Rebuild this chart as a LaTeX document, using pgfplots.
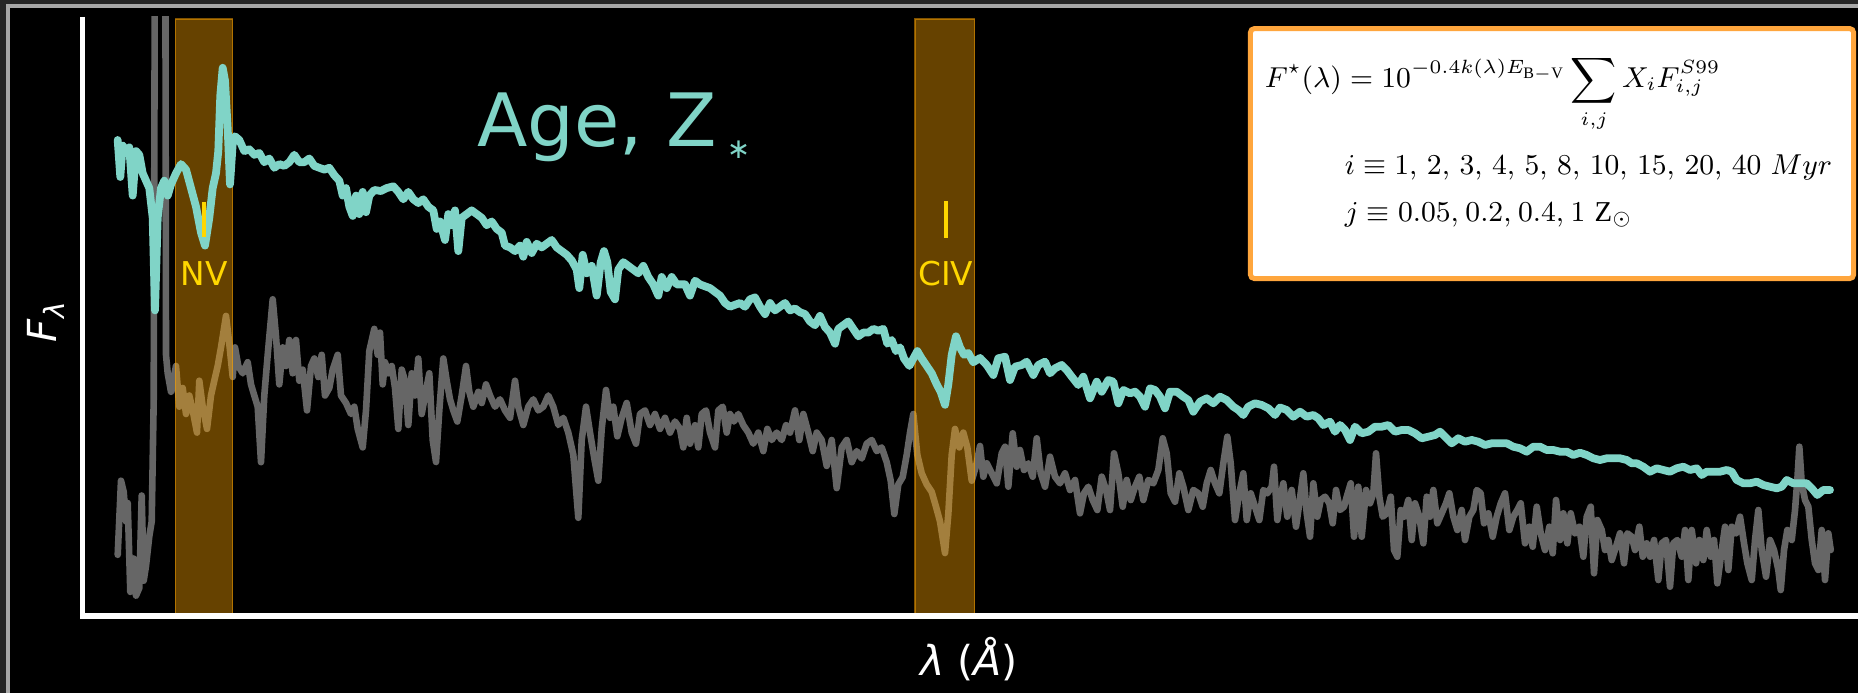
\documentclass[border=0pt]{standalone}
\usepackage{graphicx}
\usepackage{fontspec}
\setmainfont{DejaVu Sans}
\setmathrm{Liberation Serif}
\usepackage{pgfplots}
\pgfplotsset{compat=1.18}
\definecolor{cyanline}{RGB}{128,212,199}
\definecolor{grayline}{RGB}{102,102,102}
\definecolor{bandorange}{RGB}{255,165,0}
\definecolor{goldtxt}{RGB}{255,215,0}
\definecolor{boxorange}{RGB}{255,166,61}
\definecolor{framedark}{RGB}{38,38,38}
\definecolor{framelight}{RGB}{168,168,168}
\begin{document}
\begin{tikzpicture}
\useasboundingbox (0,0) rectangle (464.5pt,173.25pt);
\fill[framedark] (0,0) rectangle (464.5pt,173.25pt);
\fill[framelight] (1.5pt,0) rectangle (464.5pt,172.25pt);
\fill[black] (2.5pt,0) rectangle (464.5pt,171.25pt);
\begin{axis}[
  at={(20.625pt,19.25pt)}, anchor=south west,
  scale only axis, width=443.875pt, height=149.75pt,
  xmin=82.5, xmax=1858, ymin=17, ymax=616, y dir=reverse,
  axis line style={draw=none}, xtick=\empty, ytick=\empty,
  tick style={draw=none}, clip=true,
]
% observed spectrum (gray)
\addplot[grayline, line width=1.65pt, line join=round, line cap=round] coordinates {
(117.7,554.8) (121,480.7) (123.7,491.9) (126,521.5) (127.7,503) (130.3,591.9) (133.7,558.5) (136,595.6) (139.3,588) (141.7,495.5) (143.7,580.7) (146,566) (149.3,536.3) (151.7,521.5) (153.7,400) (155.5,-300) (165,-300) (166,354.8) (167.7,373.3) (171,391.8) (176,366) (179.3,406.7) (182.7,388) (186,414) (189.3,395.5) (192.7,410.4) (197,432.6) (199.3,380.7) (202.7,406.7) (207,428.9) (211,395.5) (214.3,380.7) (217.7,366) (221,347.4) (226,315.9) (229.3,343.7) (232.7,377) (235,347.4) (238.3,366) (242.7,373.3) (247.7,362.2) (251,384.4) (254.3,395.5) (257.7,406.7) (261,462.2) (264.3,395.5) (267.7,354.8) (272.7,299.3) (276,336.3) (279.3,384.4) (282.7,347.4) (286,366) (289.3,340) (292.7,373.3) (296,340) (299.3,380.7) (302.7,369.6) (307,410.4) (311,366) (314.3,358.5) (318.3,377) (321.7,354.8) (325,395.5) (329.3,388) (332.7,369.6) (337.7,354.8) (341,395.5) (346,403) (351,414) (354.3,406.7) (357.7,428.9) (362.7,447.4) (366,410.4) (369.3,351) (374.3,328.9) (377.7,354.8) (380,332.6)
(382.7,384.4) (385,362.2) (388.3,373.3) (391.7,366) (395,388) (398.3,428.9) (401.7,369.6) (405,380.7) (408.3,425) (411.7,373.3) (415,395.5) (418.3,358.5) (421.7,414) (425,395.5) (429.3,373.3) (432.7,440) (436,462) (439.3,410.4) (443.3,358.5) (446.7,380.7) (450,399.3) (453.3,410.4) (457.3,421.5) (461.7,395.5) (466,366) (469.3,391.8) (473.3,406.7) (478.3,391.8) (481.7,403) (486,384.4) (490,395.5) (495,406.7) (500,399.3) (505,410.4) (510,417.8) (515,380.7) (518.3,406.7) (523.3,425) (528.3,406.7) (533.3,399.3) (538.3,410.4) (543.3,406.7) (548.3,395.5) (553.3,406.7) (558.3,425) (563.3,417.8) (568.3,432.6) (573.3,454.8) (578.3,517.8) (581.7,440) (586,406.7) (590,432.6) (594.3,458.5) (598.3,480.7) (601.7,428.9) (606,390) (610,417.8) (613.3,406.7) (617.3,436.3) (621.7,417.8) (626.7,403) (631.7,432.6) (636,443.7) (640,414) (645,410.4) (650,425) (655,414) (660,428.9) (665,417.8) (670,432.6) (675,421.5) (680,428.9)
(683.3,447.4) (686.7,417.8) (690,443.7) (695,425.2) (698.3,447.4) (701.7,414) (706,410.4) (710,432.6) (715,447.4) (718.3,410.4) (722.7,406.7) (726.7,432.6) (730,414) (734,421.5) (738.3,414) (743.3,425.2) (748.3,432.6) (753.3,443.7) (758.3,432.6) (763.3,451.1) (767.3,428.9) (771.7,440) (776.7,432.6) (781.7,440) (786,425.2) (790,432.6) (795,410.4) (799.3,440) (803.3,414) (808.3,432.6) (812.7,451.1) (816.7,432.6) (821.7,440) (826.7,465.9) (831.7,440) (836.7,488.1) (841.7,447.4) (846.7,440) (851.7,462.2) (856.7,451.1) (861.7,458.5) (866.7,443.7) (871.7,440) (876.7,451.1) (881.7,447.4) (886.7,462.2) (890.7,480.7) (894.3,514) (898.3,484.4) (902.7,477) (906.7,454.8) (910,432.6) (913.3,414) (917.3,454.8) (921.7,473.3) (926.7,484.4) (931.7,491.9) (936,506.7) (940,521.5) (945,553) (948.3,514) (951.7,454.8) (955,428.9) (959.3,447.4) (963.3,432.6) (967.3,447.4) (971.7,480.7) (976,466) (980,446)
(983.3,476.7) (986.7,463.3) (991.7,473.3) (996.7,483.3) (1001.7,453.3) (1005,446.7) (1008.3,486.7) (1012.7,433.3) (1016.7,466.7) (1020,450) (1024,470) (1028.3,463.3) (1032.7,476.7) (1036.7,438.3) (1040.7,473.3) (1045,486.7) (1050,456.7) (1055,476.7) (1060,483.3) (1065,473.3) (1070,490) (1075,480) (1080,513.3) (1084,493.3) (1088.3,486.7) (1092.7,500) (1097.3,510) (1101.7,476.7) (1106,490) (1110,510) (1114,453.3) (1118.3,473.3) (1122.7,506.7) (1126.7,480) (1130.7,500) (1135,486.7) (1139.3,476.7) (1143.3,500) (1148.3,480) (1153.3,483.3) (1158.3,470) (1162.7,438.3) (1166.7,453.3) (1170.7,493.3) (1175,501.7) (1179.3,473.3) (1183.3,486.7) (1188.3,510) (1193.3,490) (1198.3,493.3) (1202.7,506.7) (1206.7,483.3) (1210.7,470) (1215,483.3) (1219.3,493.3) (1223.3,463.3) (1227.3,436.7) (1230.7,463.3) (1235,520) (1239.3,493.3) (1243.3,473.3) (1246.7,520) (1250.7,493.3) (1255,506.7) (1259.3,520) (1263.3,490) (1267.3,493.3) (1271.7,486.7) (1274,466.7) (1277.3,520) (1280,500)
(1283.3,483.3) (1287.3,516.7) (1291.7,490) (1296,526.7) (1299.3,503.3) (1303.3,473.3) (1306.7,513.3) (1310,536.7) (1313.3,483.3) (1317.3,516.7) (1320.7,500) (1325,496.7) (1329.3,503.3) (1332.7,523.3) (1336,490) (1340,510) (1344,506.7) (1346.7,496.7) (1350.7,483.3) (1354,536.7) (1358.3,486.7) (1361.7,536.7) (1366,490) (1370,503.3) (1373.3,493.3) (1376,453.3) (1379.3,496.7) (1382.7,516.7) (1386.7,513.3) (1390.7,496.7) (1394,550) (1397.3,556.7) (1400.7,510) (1404,516.7) (1408.3,500) (1411.7,540) (1415,503.3) (1419.3,516.7) (1423.3,543.3) (1426.7,496.7) (1430,516.7) (1433.3,490) (1437.3,523.3) (1441.7,513.3) (1446,503.3) (1449.3,493.3) (1453.3,516.7) (1457.3,530) (1461.7,510) (1465,540) (1469.3,516.7) (1473.3,510) (1476.7,490) (1480.7,493.3) (1484,523.3) (1488.3,513.3) (1492.7,536.7) (1496.7,516.7) (1500.7,503.3) (1505,493.3) (1509.3,530) (1513.3,516.7) (1517.3,510) (1520.7,503.3) (1525,543.3) (1529.3,526.7) (1532.7,546.7) (1536.7,506.7) (1540.7,533.3) (1545,550) (1549.3,526.7) (1552.7,553.3) (1556,500) (1560,540)
(1563.3,513.3) (1567.3,543.3) (1570.7,513.3) (1575,533.3) (1579.3,526.7) (1583.3,556.7) (1586.7,516.7) (1590.7,506.7) (1594,573.3) (1597.3,520) (1601.7,530) (1605,550) (1608.3,540) (1611.7,560) (1616,546.7) (1620,533.3) (1624,563.3) (1627.3,533.3) (1631.7,536.7) (1635,550) (1639.3,526.7) (1642.7,556.7) (1646.7,543.3) (1650,556.7) (1654,540) (1658.3,580) (1661.7,543.3) (1666,540) (1670,586.7) (1673.3,543.3) (1677.3,540) (1681.7,556.7) (1685,530) (1688.3,580) (1691.7,530) (1696,563.3) (1699.3,540) (1703.3,560) (1706.7,530) (1710.7,556.7) (1714,540) (1717.3,583.3) (1721.7,550) (1725,526.7) (1728.3,570) (1731.7,526.7) (1736,533.3) (1740,516.7) (1744,543.3) (1747.3,563.3) (1751.7,580) (1755,540) (1758.3,510) (1761.7,550) (1766,576.7) (1770,540) (1774,550) (1778.3,570) (1780.7,590) (1784,550) (1787.3,530) (1791.7,540) (1795,510) (1797.3,480) (1799.3,446.7) (1801.7,483.3) (1805,500) (1808.3,506.7) (1811.7,540) (1815,563.3) (1818.3,570) (1821.7,530) (1825,580) (1828.3,533.3) (1830.7,550)
};
% NV and CIV bands
\addplot[draw=bandorange, draw opacity=0.5, fill=bandorange, fill opacity=0.4, line width=0.3pt] coordinates {(175.4,19) (232.5,19) (232.5,616) (175.4,616)} -- cycle;
\addplot[draw=bandorange, draw opacity=0.5, fill=bandorange, fill opacity=0.4, line width=0.3pt] coordinates {(915,19) (974.5,19) (974.5,616) (915,616)} -- cycle;
% model spectrum (cyan)
\addplot[cyanline, line width=1.95pt, line join=round, line cap=round] coordinates {
(117.7,140) (120.3,177) (122.7,145.6) (126,151.1) (129.3,147.4) (132.7,195.6) (136,151.1) (139.3,154.8) (142.7,173.3) (146,180.7) (149.3,188.1) (152.7,217.8) (155,310.4) (157.7,217.8) (161,188.1) (164.3,180.7) (167.7,195.6) (171,184.4) (176,173.3) (181,164.1) (186,169.6) (191,188.1) (196,206.7) (201,232.6) (205,245.6) (209.3,217.8) (212.7,188.1) (216,173.3) (218.3,151.1) (220.3,95.6) (222.7,67.8) (225,80.7) (227.7,128.9) (230,184.4) (232.7,143.7) (235,136.3) (239.3,140) (244.3,151.1) (249.3,149.3) (254.3,154.8) (259.3,153) (264.3,162.2) (269.3,158.5) (274.3,167.8) (279.3,164.1) (284.3,165.9) (289.3,162.2) (294.3,154.8) (299.3,162.2) (304.3,162.2) (309.3,158.5) (314.3,165.9) (319.3,167.8) (324.3,169.6) (329.3,167.8) (334.3,175.2) (339.3,180.7) (342.7,195.6) (346,188.1) (349.3,206.7) (352.7,215.9) (356,195.6) (359.3,214.1) (362.7,191.9) (366,212.2) (369.3,195.6) (374.3,190) (381,191)
(386.7,188.1) (393.3,186.3) (398.3,191.9) (403.3,199.3) (408.3,191.9) (413.3,199.3) (418.3,203) (423.3,199.3) (428.3,206.7) (433.3,210.4) (436.7,228.9) (440,221.5) (445,240) (448.3,214.1) (451.7,225.2) (455,210.4) (458.3,251.1) (461.7,217.8) (466.7,214.1) (471.7,210.4) (476.7,214.1) (481.7,217.8) (486.7,225.2) (491.7,221.5) (496.7,228.9) (501.7,232.6) (505,245.6) (510,247.4) (515,251.1) (520,245.6) (523.3,256.7) (526.7,241.9) (531.7,253) (536.7,243.7) (541.7,247.4) (546.7,243.7) (551.7,240) (556.7,247.4) (561.7,251.1) (566.7,254.8) (571.7,260.4) (576.7,269.6) (579.3,288.1) (582.7,254.8) (586.7,273.3) (591.7,265.9) (596.7,295.6) (600.7,262.2) (604,251.1) (607.3,262.2) (610.7,291.9) (615,299.3) (618.3,269.6) (623.3,262.2) (628.3,265.9) (633.3,269.6) (638.3,273.3) (643.3,265.9) (648.3,277) (653.3,284.4) (658.3,295.6) (661.7,277) (666.7,288.1) (671.7,277) (676.7,284.4) (680,284.4)
(685,284.4) (690,295.6) (695,280.7) (700,284.4) (705,286.3) (710,288.1) (715,291.9) (720,295.6) (725,303) (730,306.7) (735,304.8) (740,303) (745,306.7) (750,299.3) (755,297.4) (760,306.7) (765,314.1) (770,303) (775,310.4) (780,306.7) (785,303) (790,310.4) (795,308.5) (800,312.2) (805,314.1) (810,321.5) (815,325.2) (820,315.9) (825,327) (830,332.6) (835,343.7) (838.3,328.9) (843.3,325.2) (848.3,321.5) (853.3,328.9) (858.3,336.3) (863.3,332.6) (868.3,332.6) (873.3,328.9) (878.3,330.7) (883.3,328.9) (887.3,343.7) (891.7,340) (896,351.1) (900,347.4) (904,358.5) (909.3,365.9) (913.3,358.5) (917.3,351.1) (921.7,358.5) (926.7,365.9) (931.7,373.3) (936.7,384.4) (940.7,391.9) (945,404.8) (948.3,384.4) (951.7,354.8) (956,336.3) (960,347.4) (964,354.8) (968.3,353) (973.3,362.2) (980,358)
(986.7,365) (993.3,375) (998.3,358.3) (1005,356.7) (1010,380) (1015,366.7) (1021.7,365) (1026.7,361.7) (1033.3,375) (1038.3,365) (1045,361.7) (1050,373.3) (1055,368.3) (1061.7,365) (1066.7,370) (1071.7,376.7) (1078.3,385) (1083.3,376.7) (1090,398.3) (1096.7,381.7) (1101.7,391.7) (1108.3,380) (1113.3,381.7) (1118.3,403.3) (1123.3,390) (1130,393.3) (1135,391.7) (1140,396.7) (1145,406.7) (1150,388.3) (1155,390) (1160,396.7) (1165,408.3) (1170,391.7) (1176.7,391.7) (1183.3,396.7) (1188.3,400) (1193.3,411.7) (1200,401.7) (1206.7,398.3) (1213.3,403.3) (1220,396.7) (1226.7,400) (1233.3,406.7) (1238.3,410) (1243.3,415) (1248.3,406.7) (1255,403.3) (1261.7,405) (1268.3,408.3) (1275,415) (1280,407.5)
(1286.7,410) (1293.3,416.7) (1300,411.7) (1306.7,416.7) (1313.3,415) (1318.3,418.3) (1323.3,425) (1330,421.7) (1335,431.7) (1340,425) (1345,430) (1350,440) (1355,426.7) (1361.7,433.3) (1368.3,431.7) (1375,426.7) (1381.7,426.7) (1388.3,425) (1395,431.7) (1401.7,430) (1408.3,430) (1415,433.3) (1421.7,438.3) (1428.3,436.7) (1435,435) (1440,431.7) (1446.7,438.3) (1451.7,443.3) (1458.3,438.3) (1465,441.7) (1471.7,440) (1478.3,441.7) (1485,445) (1491.7,443.3) (1498.3,443.3) (1506.7,443.3) (1513.3,446.7) (1520,448.3) (1526.7,451.7) (1533.3,446.7) (1540,446.7) (1546.7,450) (1553.3,450) (1560,451.7)
(1566.7,451.7) (1573.3,455) (1580,452.7) (1586.7,455) (1593.3,458.3) (1600,460) (1606.7,458.3) (1613.3,458.3) (1620,458.3) (1626.7,460) (1631.7,463.3) (1636.7,463.3) (1643.3,466.7) (1650,471.7) (1656.7,468.3) (1663.3,470) (1670,471.7) (1676.7,468.3) (1683.3,466.7) (1690,470) (1696.7,468.3) (1701.7,475) (1706.7,471.7) (1713.3,471.7) (1720,471.7) (1726.7,470) (1731.7,471.7) (1736.7,480) (1743.3,483.3) (1750,483.3) (1756.7,481.7) (1763.3,485) (1770,486.7) (1776.7,488.3) (1781.7,486.7) (1786.7,480) (1793.3,483.3) (1800,483.3) (1806.7,483.3) (1811.7,488.3) (1817.3,495) (1823.3,490) (1830,490)
};
% line markers
\addplot[goldtxt, line width=1pt] coordinates {(204,202) (204,237)};
\addplot[goldtxt, line width=1pt] coordinates {(946,201) (946,238)};
\node[anchor=base, text=goldtxt, inner sep=0pt, font=\fontsize{8.2}{10}\selectfont] at (axis cs:204.3,286) {NV};
\node[anchor=base, text=goldtxt, inner sep=0pt, font=\fontsize{8.2}{10}\selectfont] at (axis cs:945.8,286) {CIV};
\end{axis}
% axis lines
\draw[white, line width=1.3pt] (20.625pt,169pt) -- (20.625pt,19.25pt) -- (464.5pt,19.25pt);
% labels
\node[anchor=base west, inner sep=0pt, text=cyanline, font=\fontsize{18.4}{21}\selectfont] at (119.2pt,136.5pt) {Age, Z\hspace{2.4pt}\raisebox{-2.9pt}{\fontsize{7}{7}\selectfont ∗}};
\node[rotate=90, text=white, inner sep=0pt, font=\fontsize{10}{12}\selectfont] at (11.5pt,93pt) {\textit{F}\textsubscript{\textit{λ}}};
\node[anchor=base, text=white, inner sep=0pt, font=\fontsize{10.3}{12}\selectfont] at (242.25pt,4.4pt) {\textit{λ} (\textit{Å})};
% formula box
\draw[boxorange, line width=1.25pt, fill=white, rounded corners=1pt] (312.6pt,103.6pt) rectangle (463.4pt,166.1pt);
\node[anchor=base west, inner sep=0pt, font=\fontsize{9}{11}\selectfont] at (316pt,151.3pt) {\scalebox{0.8}{$\displaystyle F^{\star}(\lambda) = 10^{-0.4k(\lambda)E_{\mathrm{B-V}}}\sum_{i,j} X_i F^{S99}_{i,j}$}};
\node[anchor=base west, inner sep=0pt, font=\fontsize{9}{11}\selectfont] at (336pt,129.6pt) {\scalebox{0.8}{\thinmuskip=5.8mu $i \equiv 1, 2, 3, 4, 5, 8, 10, 15, 20, 40\ Myr$}};
\node[anchor=base west, inner sep=0pt, font=\fontsize{9}{11}\selectfont] at (336pt,117.8pt) {\scalebox{0.8}{\thinmuskip=4mu $j \equiv 0.05, 0.2, 0.4, 1\ \mathrm{Z}_{\odot}$}};
\end{tikzpicture}
\end{document}
